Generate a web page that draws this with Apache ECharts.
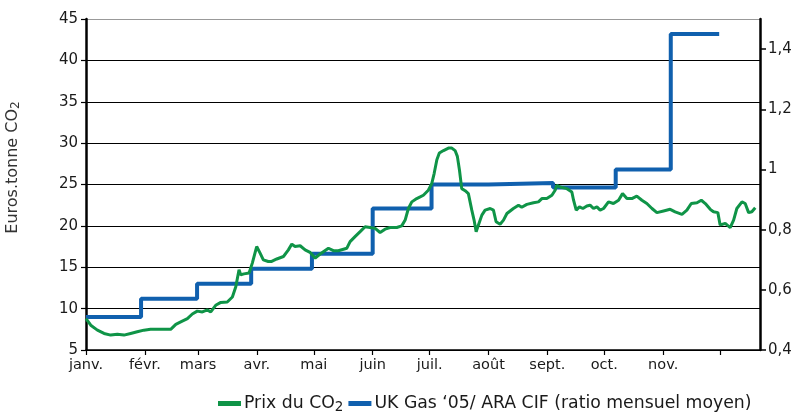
<!DOCTYPE html>
<html>
<head>
<meta charset="utf-8">
<script src="https://cdn.jsdelivr.net/npm/echarts@6/dist/echarts.min.js"></script>
<style>
  html, body { margin: 0; padding: 0; background: #fff; }
  #chart { width: 800px; height: 412px; }
</style>
</head>
<body>
<div id="chart"></div>
<script>
// axe des x : jour de l'année (0 = 1er janvier)
const monthDays = [0, 31, 59, 90, 120, 151, 181, 212, 243, 273, 304, 334];
const monthLabels = ['janv.', 'févr.', 'mars', 'avr.', 'mai', 'juin', 'juil.', 'août', 'sept.', 'oct.', 'nov.', ''];

// Prix du CO2 (euros / tonne)
const co2Days = [0, 2.5, 6, 9.5, 13, 16.5, 20, 23.5, 27, 30.5, 34, 37.5, 41, 44.6, 47.3, 49.9, 53.4, 56, 58.6, 61.3,
    63.9, 65.7, 68.3, 71, 74.4, 77.1, 78.9, 80.6, 81.5, 83.2, 85.9, 87.6, 89.9, 91.7, 93.4, 96, 97.8, 100.5, 104, 106.6,
    108.4, 110.1, 112.8, 115.4, 118, 120.7, 123.3, 127.7, 130.3, 132.9, 137.4, 139.1, 141.7, 144.4, 147, 149.6, 152.3, 154.9, 157.5, 160.2,
    163.7, 166.3, 168.1, 169.8, 171.6, 174.2, 176, 177.7, 180.3, 182.1, 183.4, 184.8, 186.1, 188.3, 190.9, 192.7, 194.4, 195.6, 196.7, 197.9,
    199.7, 201.4, 203.2, 204.4, 205.5, 206.7, 208.5, 210.2, 212.9, 214.6, 216, 218.1, 219.9, 221.7, 225.1, 227.8, 229.5, 232.2, 235.7, 238.3,
    240.1, 242.7, 245.4, 247.1, 248, 249.7, 253.3, 255.9, 256.8, 258.2, 259.9, 261.7, 263.8, 265.5, 267.3, 269.1, 270.8, 272.6, 275.2, 277.8,
    280.5, 282.6, 284.9, 287.5, 290.1, 292.8, 295.4, 298.1, 300.7, 304.2, 307.7, 310.3, 313.9, 316.5, 318.8, 321.8, 324.1, 326.2, 328.8, 330.5,
    332.8, 334, 336.7, 339.3, 341.1, 342.8, 345.5, 347.2, 349, 350.7, 352.5];
const co2Prices = [8.8, 8.0, 7.4, 7.0, 6.8, 6.9, 6.8, 7.0, 7.2, 7.4, 7.5, 7.5, 7.5, 7.5, 8.1, 8.4, 8.8, 9.35, 9.7, 9.6,
    9.85, 9.6, 10.4, 10.75, 10.8, 11.4, 12.65, 14.7, 14.1, 14.2, 14.3, 15.5, 17.5, 16.7, 15.9, 15.7, 15.7, 16.0, 16.3, 17.1,
    17.8, 17.5, 17.6, 17.1, 16.8, 16.1, 16.6, 17.3, 17.0, 17.0, 17.3, 18.1, 18.7, 19.3, 19.9, 19.8, 19.7, 19.2, 19.6, 19.8,
    19.8, 20.0, 20.7, 22.1, 22.9, 23.3, 23.5, 23.7, 24.3, 25.1, 26.35, 28.0, 28.8, 29.1, 29.4, 29.4, 29.1, 28.4, 26.75, 24.5,
    24.25, 23.9, 21.9, 20.7, 19.3, 20.1, 21.3, 21.9, 22.1, 21.9, 20.5, 20.2, 20.7, 21.5, 22.1, 22.5, 22.25, 22.6, 22.8, 22.9,
    23.3, 23.3, 23.7, 24.3, 24.9, 24.7, 24.5, 24.1, 23.1, 21.9, 22.3, 22.1, 22.4, 22.5, 22.1, 22.3, 21.9, 22.1, 22.9, 22.7,
    23.1, 23.9, 23.3, 23.3, 23.6, 23.1, 22.7, 22.1, 21.6, 21.8, 22.0, 21.7, 21.4, 21.9, 22.7, 22.8, 23.1, 22.7, 22.0, 21.7,
    21.6, 20.1, 20.3, 19.8, 20.7, 22.1, 22.9, 22.7, 21.6, 21.7, 22.2];

// UK Gas '05 / ARA CIF, ratio mensuel moyen (axe de droite)
const gasDays = [0, 29, 58.5, 87, 119, 151, 182, 212, 246, 279, 308, 333.5];
const gasRatio = [0.51, 0.57, 0.62, 0.67, 0.72, 0.87, 0.95, 0.955, 0.94, 1.0, 1.45, 1.45];

const monthName = {};
monthDays.forEach((d, i) => { monthName[d] = monthLabels[i]; });

const chart = echarts.init(document.getElementById('chart'));
const fontFamily = '"DejaVu Sans", "Liberation Sans", sans-serif';

// indice "2" de CO2
const subStyle = { fontSize: 12, padding: [7, 0, 0, 0], fontFamily: fontFamily };

const option = {
    animation: false,
    textStyle: { fontFamily: fontFamily },
    grid: { left: 86, right: 40, top: 19, bottom: 62, outerBoundsMode: 'none' },
    legend: {
        top: 390,
        left: 213,
        itemWidth: 23,
        itemHeight: 5,
        itemGap: 5,
        icon: 'rect',
        formatter: name => name.replace('CO2', 'CO{sub|2}'),
        textStyle: {
            fontSize: 17.3,
            color: '#1a1a1a',
            fontFamily: fontFamily,
            padding: [0, 0, 0, -2],
            rich: { sub: Object.assign({}, subStyle, { fontSize: 13.5 }) }
        },
        data: ['Prix du CO2', 'UK Gas ‘05/ ARA CIF (ratio mensuel moyen)']
    },
    xAxis: {
        type: 'value',
        min: 0,
        max: 355,
        axisLine: { lineStyle: { color: '#000', width: 1.5 } },
        axisTick: { length: 5, customValues: monthDays, lineStyle: { color: '#000', width: 1.2 } },
        axisLabel: {
            customValues: monthDays,
            formatter: v => monthName[v] || '',
            color: '#1a1a1a',
            fontSize: 14.5,
            margin: 8
        },
        splitLine: { show: false }
    },
    yAxis: [
        {
            type: 'value',
            min: 5,
            max: 45,
            interval: 5,
            name: 'Euros.tonne CO{sub|2}',
            nameLocation: 'middle',
            nameGap: 64,
            nameTextStyle: {
                fontSize: 16,
                color: '#333',
                padding: [0, 0, 0, 34],
                rich: { sub: subStyle }
            },
            axisLine: { show: true, lineStyle: { color: '#000', width: 2.5 } },
            axisTick: { show: true, length: 5, lineStyle: { color: '#000', width: 1.2 } },
            axisLabel: { color: '#1a1a1a', fontSize: 15, margin: 8 },
            splitLine: {
                lineStyle: {
                    color: ['#000', '#000', '#000', '#000', '#000', '#000', '#000', '#000', '#999'],
                    width: 1
                }
            }
        },
        {
            type: 'value',
            position: 'right',
            min: 0.4,
            max: 1.5,
            interval: 0.2,
            axisLine: { show: true, lineStyle: { color: '#000', width: 2.5 } },
            axisTick: { show: true, inside: false, length: 6, lineStyle: { color: '#000', width: 1.5 } },
            axisLabel: {
                showMaxLabel: false,
                color: '#1a1a1a',
                fontSize: 15,
                margin: 8,
                formatter: v => String(Math.round(v * 10) / 10).replace('.', ',')
            },
            splitLine: { show: false }
        }
    ],
    series: [
        {
            name: 'UK Gas ‘05/ ARA CIF (ratio mensuel moyen)',
            type: 'line',
            yAxisIndex: 1,
            step: 'end',
            showSymbol: false,
            lineStyle: { color: '#1060ae', width: 4 },
            itemStyle: { color: '#1060ae' },
            data: gasDays.map((d, i) => [d, gasRatio[i]]),
            z: 2
        },
        {
            name: 'Prix du CO2',
            type: 'line',
            showSymbol: false,
            lineStyle: { color: '#0f9447', width: 3 },
            itemStyle: { color: '#0f9447' },
            data: co2Days.map((d, i) => [d, co2Prices[i]]),
            z: 3
        }
    ]
};

option && chart.setOption(option);
</script>
</body>
</html>
